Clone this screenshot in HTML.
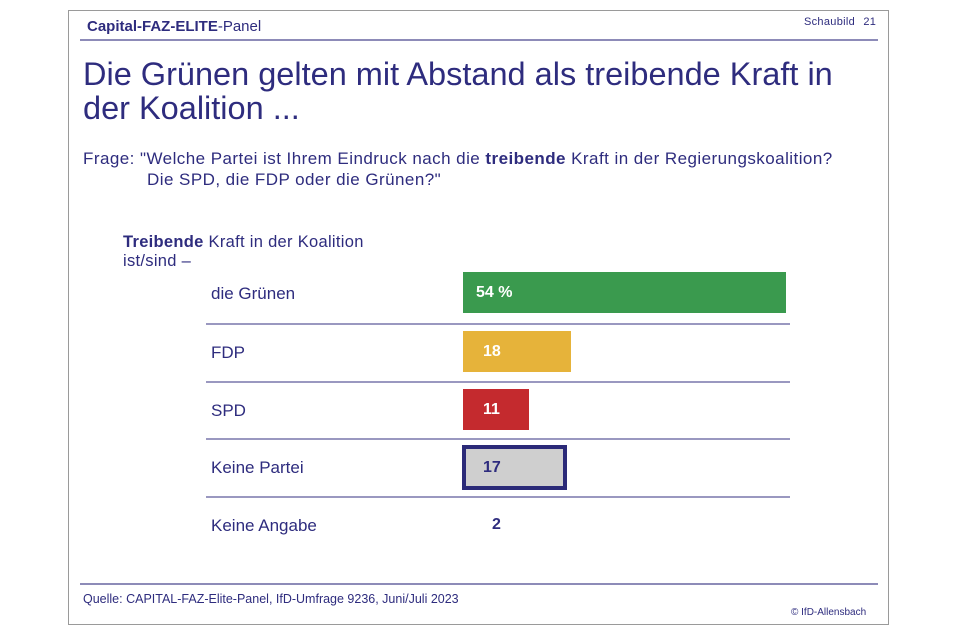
<!DOCTYPE html>
<html><head><meta charset="utf-8"><style>
body{margin:0;width:960px;height:639px;background:#fff;font-family:"Liberation Sans",sans-serif;color:#2e2c7e;position:relative;overflow:hidden}
.a{position:absolute;white-space:nowrap}
.frame{position:absolute;left:68px;top:10px;width:821px;height:615px;border:1px solid #9a9a9a;box-sizing:border-box}
.hl{position:absolute;height:1px;background:#9a98c0}
.bar{position:absolute;color:#fff;font-weight:bold;font-size:16px;box-sizing:border-box;padding-left:16px;display:flex;align-items:center}
.lab{font-size:17px;left:211px}
</style></head><body>
<div class="frame"></div>
<div class="a" style="left:87px;top:18px;font-size:15px;color:#2e2c7e"><b>Capital-FAZ-ELITE</b>-Panel</div>
<div class="a" style="left:804px;top:16px;font-size:11px;letter-spacing:0.3px;word-spacing:5px">Schaubild 21</div>
<div class="hl" style="left:80px;top:39px;width:798px;height:2px;background:#8d8bb8"></div>
<div class="a" style="left:83px;top:57px;font-size:32.5px;line-height:34px;color:#2e2c7e">Die Grünen gelten mit Abstand als treibende Kraft in<br>der Koalition ...</div>
<div class="a" style="left:83px;top:148px;font-size:17px;line-height:21px;letter-spacing:0.45px">Frage: "Welche Partei ist Ihrem Eindruck nach die <b>treibende</b> Kraft in der Regierungskoalition?<br><span style="padding-left:64px">Die SPD, die FDP oder die Grünen?"</span></div>
<div class="a" style="left:123px;top:233px;font-size:16.5px;line-height:19px;letter-spacing:0.3px"><b>Treibende</b> Kraft in der Koalition<br>ist/sind –</div>
<div class="a lab" style="top:284px">die Grünen</div>
<div class="a lab" style="top:343px">FDP</div>
<div class="a lab" style="top:401px">SPD</div>
<div class="a lab" style="top:458px">Keine Partei</div>
<div class="a lab" style="top:516px">Keine Angabe</div>
<div class="hl" style="left:206px;top:323px;width:584px;height:2px"></div>
<div class="hl" style="left:206px;top:381px;width:584px;height:2px"></div>
<div class="hl" style="left:206px;top:438px;width:584px;height:2px"></div>
<div class="hl" style="left:206px;top:496px;width:584px;height:2px"></div>
<div class="bar" style="left:463px;top:272px;width:323px;height:41px;background:#3a9a4e;padding-left:13px">54 %</div>
<div class="bar" style="left:463px;top:331px;width:108px;height:41px;background:#e6b33a;padding-left:20px">18</div>
<div class="bar" style="left:463px;top:389px;width:66px;height:41px;background:#c42a2e;padding-left:20px">11</div>
<div class="bar" style="left:462px;top:445px;width:105px;height:45px;background:#cfcfcf;border:4px solid #2b2a78;color:#2e2c7e;padding-left:17px">17</div>
<div class="a" style="left:492px;top:516px;font-size:16px;font-weight:bold">2</div>
<div class="hl" style="left:80px;top:583px;width:798px;height:2px;background:#8d8bb8"></div>
<div class="a" style="left:83px;top:592px;font-size:12.5px">Quelle: CAPITAL-FAZ-Elite-Panel, IfD-Umfrage 9236, Juni/Juli 2023</div>
<div class="a" style="left:791px;top:607px;font-size:10px">© IfD-Allensbach</div>
</body></html>
